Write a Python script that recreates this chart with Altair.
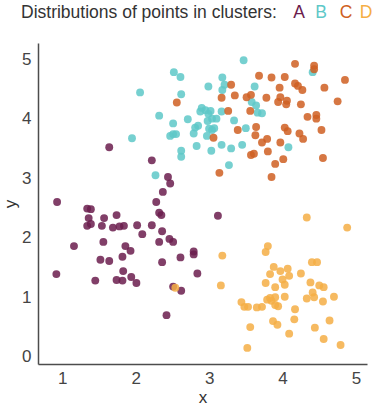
import altair as alt
import pandas as pd

# ---- data ----
clusters = ["A", "B", "C", "D"]
colors = ["#6b1d4e", "#5ec8c8", "#cf5f22", "#f5ae45"]

a_x = [1.64, 2.22, 2.44, 2.47, 2.37, 0.93, 2.28, 1.34, 1.39, 2.32, 2.35, 1.74, 1.57, 1.36, 3.12,
       1.34, 1.39, 1.54, 1.69, 1.78, 1.84, 2.02, 2.09, 2.22, 2.36, 1.16, 1.56, 1.86, 1.93, 2.32,
       2.46, 2.51, 1.82, 1.52, 1.64, 2.36, 2.61, 2.79, 2.79, 0.92, 1.83, 2.84, 1.45, 1.74, 1.82,
       1.94, 2.01, 2.51, 2.62, 2.42]
a_y = [3.52, 3.30, 3.02, 2.91, 2.77, 2.60, 2.60, 2.49, 2.48, 2.42, 2.38, 2.38, 2.33, 2.33, 2.37,
       2.20, 2.23, 2.20, 2.17, 2.19, 2.20, 2.21, 2.06, 2.21, 2.11, 1.86, 1.93, 1.86, 1.78, 1.93,
       1.98, 1.93, 1.68, 1.63, 1.61, 1.59, 1.67, 1.77, 1.72, 1.39, 1.44, 1.40, 1.28, 1.29, 1.28,
       1.34, 1.24, 1.18, 1.11, 0.70]

b_x = [2.52, 2.61, 2.06, 2.62, 2.32, 2.71, 2.51, 2.81, 2.85, 2.47, 2.51, 2.55, 2.79, 1.95, 2.83,
       2.62, 2.62, 2.27, 3.47, 4.41, 3.18, 2.99, 3.21, 3.18, 3.62, 3.58, 3.64, 2.90, 2.95, 3.02,
       2.99, 3.04, 3.10, 3.17, 3.66, 3.72, 3.34, 3.04, 3.50, 2.97, 3.03, 3.17, 3.30, 3.45, 4.08,
       3.27, 3.07, 2.98, 2.88, 3.00]
b_y = [4.78, 4.70, 4.44, 4.41, 4.05, 3.99, 3.92, 3.85, 3.88, 3.71, 3.74, 3.74, 3.75, 3.67, 3.54,
       3.46, 3.36, 3.05, 4.98, 4.78, 4.69, 4.54, 4.57, 4.48, 4.54, 4.28, 4.22, 4.18, 4.14, 4.13,
       4.08, 4.00, 4.00, 4.12, 4.10, 4.09, 3.97, 3.81, 3.84, 3.71, 3.46, 3.56, 3.50, 3.56, 3.52,
       3.22, 3.84, 3.96, 4.12, 3.83]

c_x = [4.17, 4.43, 4.43, 3.68, 3.85, 4.03, 4.85, 3.30, 4.17, 4.21, 3.96, 4.57, 4.27, 3.35, 3.57,
       3.17, 3.51, 3.78, 3.97, 4.06, 4.05, 3.94, 4.75, 4.25, 3.26, 3.56, 4.34, 4.46, 4.46, 3.64,
       3.39, 4.03, 4.07, 4.53, 4.23, 3.63, 3.06, 3.79, 3.72, 4.28, 3.97, 3.80, 3.57, 3.61, 4.55,
       4.01, 3.90, 3.14, 3.85, 2.56]
c_y = [4.92, 4.89, 4.83, 4.72, 4.69, 4.70, 4.65, 4.57, 4.59, 4.55, 4.52, 4.52, 4.48, 4.39, 4.40,
       4.35, 4.36, 4.35, 4.36, 4.30, 4.24, 4.28, 4.29, 4.24, 4.13, 4.13, 4.03, 4.06, 4.00, 3.86,
       3.81, 3.85, 3.79, 3.81, 3.75, 3.72, 3.68, 3.66, 3.60, 3.66, 3.60, 3.45, 3.39, 3.41, 3.34,
       3.32, 3.24, 3.09, 3.02, 4.27]

d_x = [4.33, 4.88, 3.80, 3.77, 3.18, 4.40, 4.47, 3.88, 3.97, 4.07, 4.09, 3.83, 3.16, 3.77, 3.90,
       4.03, 4.38, 4.50, 4.56, 4.41, 4.43, 4.33, 4.70, 4.55, 3.79, 3.83, 3.90, 3.85, 4.03, 3.44,
       3.48, 3.53, 3.65, 3.72, 3.90, 3.94, 4.17, 4.16, 3.87, 3.93, 4.64, 3.56, 4.44, 4.09, 4.56,
       4.79, 3.52, 2.54, 4.00, 4.25]
d_y = [2.34, 2.17, 1.86, 1.76, 1.70, 1.59, 1.59, 1.51, 1.44, 1.48, 1.36, 1.39, 1.20, 1.24, 1.17,
       1.21, 1.25, 1.20, 1.17, 1.08, 1.00, 0.98, 1.01, 0.93, 0.96, 0.99, 1.00, 0.94, 1.01, 0.92,
       0.84, 0.84, 0.83, 0.84, 0.87, 0.85, 0.80, 0.63, 0.60, 0.54, 0.61, 0.50, 0.49, 0.39, 0.30,
       0.20, 0.15, 1.16, 1.30, 1.40]

title_text = "Distributions of points in clusters:"

rows = []
for name, xs, ys in [("A", a_x, a_y), ("B", b_x, b_y), ("C", c_x, c_y), ("D", d_x, d_y)]:
    for xv, yv in zip(xs, ys):
        rows.append({"x": xv, "y": yv, "cluster": name})
df = pd.DataFrame(rows)

FONT = "Liberation Sans"

points = alt.Chart(df).mark_circle(size=62, opacity=0.85).encode(
    x=alt.X("x:Q",
            scale=alt.Scale(domain=[0.67, 5.15], nice=False, zero=False),
            axis=alt.Axis(values=[1, 2, 3, 4, 5], title="x", grid=False, ticks=False,
                          labelPadding=6, titlePadding=3)),
    y=alt.Y("y:Q",
            scale=alt.Scale(domain=[-0.12, 5.27], nice=False, zero=False),
            axis=alt.Axis(values=[0, 1, 2, 3, 4, 5], title="y", grid=False, ticks=False,
                          labelPadding=7, titlePadding=2)),
    color=alt.Color("cluster:N", scale=alt.Scale(domain=clusters, range=colors), legend=None),
)

layers = [points]
title_main = alt.Chart(pd.DataFrame({"t": [title_text]})).mark_text(
    align="left", baseline="middle", fontSize=17.5, font=FONT, color="#333333"
).encode(x=alt.value(-17), y=alt.value(-30), text="t:N")
layers.append(title_main)

letter_x = [261, 283, 308, 328]
for letter, col, lx in zip(clusters, colors, letter_x):
    layers.append(
        alt.Chart(pd.DataFrame({"t": [letter]})).mark_text(
            align="center", baseline="middle", fontSize=17.5, font=FONT, color=col
        ).encode(x=alt.value(lx), y=alt.value(-30), text="t:N")
    )

chart = alt.layer(*layers).properties(
    width=329, height=321,
    autosize=alt.AutoSizeParams(type="none"),
    padding={"left": 38, "top": 43, "right": 11, "bottom": 46},
).configure_view(stroke=None).configure_axis(
    domainColor="#4d4d4d", domainWidth=1.5,
    labelFont=FONT, labelFontSize=17, labelColor="#444444",
    titleFont=FONT, titleFontSize=17, titleColor="#333333", titleFontWeight="normal",
)

chart.save("out.html", embed_options={"renderer": "svg", "actions": False})
